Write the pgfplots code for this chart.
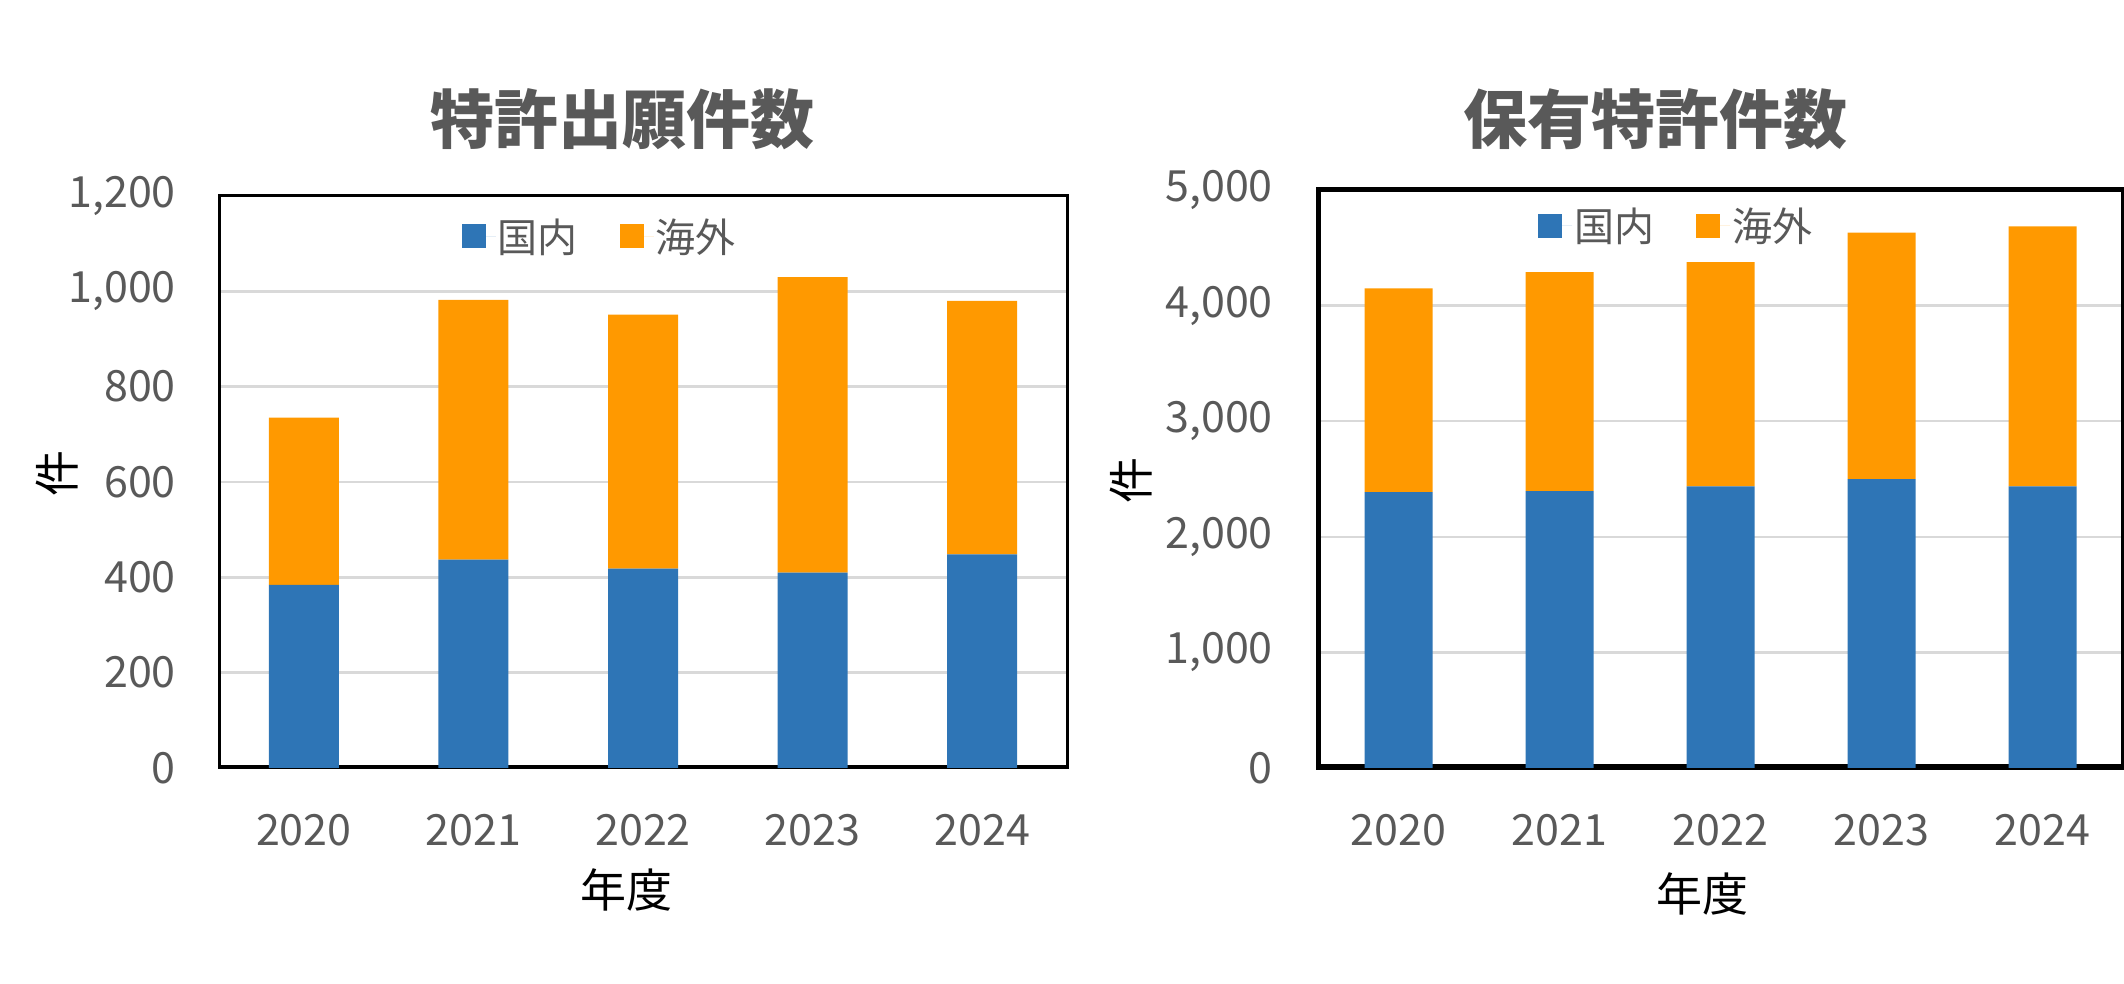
\documentclass[border=0pt]{standalone}
\usepackage{pgfplots}
\pgfplotsset{compat=1.18}
\usepackage{pgfplotstable}
\usepackage{fontspec}
\setmainfont{Noto Sans CJK JP}

\definecolor{domestic}{HTML}{2E75B6}
\definecolor{overseas}{HTML}{FF9900}
\definecolor{txtgray}{HTML}{595959}
\definecolor{gridgray}{HTML}{D9D9D9}

% Patent applications per fiscal year (domestic / overseas)
\pgfplotstableread{
x dom ovs
0 384 351
1 437 545
2 418 533
3 410 620
4 448 532
}\applications

% Patents held per fiscal year (domestic / overseas)
\pgfplotstableread{
x dom ovs
0 2387 1763
1 2394 1895
2 2437 1938
3 2498 2134
4 2437 2248
}\holdings

\pgfplotsset{
  patentbars/.style={
    scale only axis,
    anchor=south west,
    ybar stacked,
    xmin=-0.5, xmax=4.5, ymin=0,
    xtick={0,...,4},
    xticklabels={2020,2021,2022,2023,2024},
    major tick length=0pt,
    scaled y ticks=false,
    /pgf/number format/assume math mode=true,
    yticklabel style={/pgf/number format/fixed, /pgf/number format/1000 sep={,}},
    ticklabel style={font=\fontsize{43}{43}\selectfont, text=txtgray, inner sep=0pt},
    xticklabel style={anchor=center, yshift=-62pt},
    yticklabel style={anchor=east},
    ymajorgrids,
    grid style={gridgray, line width=2.5pt},
    label style={font=\fontsize{46}{46}\selectfont, text=black},
    title style={font=\fontsize{64}{64}\selectfont\bfseries, text=txtgray, anchor=center},
    legend columns=2,
    legend style={draw=none, fill=none, anchor=center,
      font=\fontsize{40}{40}\selectfont, text=txtgray,
      /tikz/every even column/.append style={column sep=40pt}},
    legend image code/.code={\fill[#1] (0pt,-12pt) rectangle (24pt,12pt);
      \path (24pt,0pt) -- (34pt,0pt);},
  },
  % light-grey horizontal axis line along the bottom of the plot area
  baseline/.style={gridgray, line width=3pt},
}

\begin{document}
\begin{tikzpicture}
\useasboundingbox (0pt,0pt) rectangle (2124pt,984pt);
\clip (0pt,0pt) rectangle (2124pt,984pt);

% Left: patent applications
\begin{axis}[patentbars,
  at={(219pt,216pt)}, width=848pt, height=572pt,
  ymax=1200, ytick={0,200,...,1200},
  yticklabel style={xshift=-43pt},
  axis line style={black, line width=3pt},
  bar width=70pt,
  title={特許出願件数},
  title style={at={(axis description cs:0.476,1.124)}},
  xlabel={年度},
  xlabel style={at={(axis description cs:0.481,-0.213)}, anchor=center},
  ylabel={件},
  ylabel style={at={(axis description cs:-0.191,0.514)}, anchor=center},
  legend style={at={(axis description cs:0.449,0.930)}},
]
\addplot[fill=domestic, draw=none] table[x=x, y=dom] {\applications};
\addplot[fill=overseas, draw=none] table[x=x, y=ovs] {\applications};
\legend{国内,海外}
\draw[baseline] ([yshift=3pt]rel axis cs:0,0) -- ([yshift=3pt]rel axis cs:1,0);
\end{axis}

% Right: patents held
\begin{axis}[patentbars,
  at={(1318pt,216pt)}, width=805pt, height=578pt,
  ymax=5000, ytick={0,1000,...,5000},
  yticklabel style={xshift=-45pt},
  axis line style={black, line width=5pt},
  bar width=68pt,
  title={保有特許件数},
  title style={at={(axis description cs:0.419,1.112)}},
  xlabel={年度},
  xlabel style={at={(axis description cs:0.478,-0.218)}, anchor=center},
  ylabel={件},
  ylabel style={at={(axis description cs:-0.232,0.497)}, anchor=center},
  legend style={at={(axis description cs:0.445,0.938)}},
]
\addplot[fill=domestic, draw=none] table[x=x, y=dom] {\holdings};
\addplot[fill=overseas, draw=none] table[x=x, y=ovs] {\holdings};
\legend{国内,海外}
\draw[baseline] ([yshift=4pt]rel axis cs:0,0) -- ([yshift=4pt]rel axis cs:1,0);
\end{axis}
\end{tikzpicture}
\end{document}
